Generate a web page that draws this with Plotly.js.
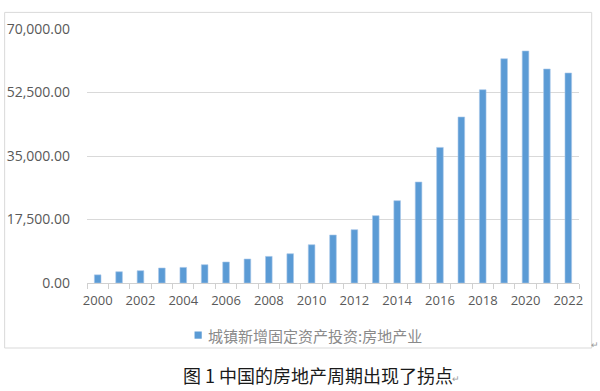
<!DOCTYPE html>
<html><head><meta charset="utf-8">
<script src="https://cdn.plot.ly/plotly-3.0.1.min.js"></script>
<style>html,body{margin:0;padding:0;background:#fff;}#chart{width:600px;height:391px;}</style>
</head><body><div id="chart"></div>
<script>
const years = [2000,2001,2002,2003,2004,2005,2006,2007,2008,2009,2010,2011,2012,2013,2014,2015,2016,2017,2018,2019,2020,2021,2022];
const values = [2250,3110,3390,4130,4300,5040,5790,6610,7330,8070,10550,13230,14690,18550,22680,27830,37370,45750,53270,61810,63940,58980,57870];
const seriesName = '城镇新增固定资产投资:房地产业';
const yTicks = [0,17500,35000,52500,70000];
const xTickYears = [2000,2002,2004,2006,2008,2010,2012,2014,2016,2018,2020,2022];
const caption = '图 1 中国的房地产周期出现了拐点';
const barColor = '#5B9BD5';

const L=86.7, R=579, T=29.3, B=283.3, W=600, H=391;
const pw=R-L, ph=B-T;
const px=x=>(x-L)/pw, py=y=>(B-y)/ph;

const trace = {
  type:'bar', x:years, y:values, name:seriesName,
  marker:{color:barColor, line:{color:'#A9C8EA', width:0.6}},
  showlegend:false
};
const layout = {
  width:W, height:H,
  margin:{l:L, r:W-R, t:T, b:H-B, pad:0},
  paper_bgcolor:'#fff', plot_bgcolor:'#fff',
  font:{family:'"Open Sans", "Noto Sans CJK SC", sans-serif', size:13, color:'#595959'},
  bargap:0.69,
  showlegend:false,
  xaxis:{
    range:[1999.5,2022.5], tickmode:'array', tickvals:xTickYears, ticktext:xTickYears.map(String),
    ticks:'', showgrid:false, zeroline:false, showline:true, linecolor:'#d0d0d0', linewidth:1,
    ticklabelstandoff:5,
    tickfont:{size:13,color:'#595959'},
    minor:{tick0:1999.5, dtick:1, ticks:'outside', ticklen:5, tickcolor:'#d0d0d0', tickwidth:1, showgrid:false}
  },
  yaxis:{
    range:[0,70000], tickmode:'array', tickvals:yTicks, tickformat:',.2f',
    showgrid:true, gridcolor:'#d9d9d9', gridwidth:1, zeroline:false, showline:false, ticks:'',
    ticklabelstandoff:16, tickfont:{size:14,color:'#595959'}
  },
  shapes:[
    {type:'rect', xref:'paper', yref:'paper', x0:px(4.3), x1:px(591.7), y0:py(348.3), y1:py(12.7),
     line:{color:'#d9d9d9', width:1}, fillcolor:'rgba(0,0,0,0)', layer:'below'},
    {type:'rect', xref:'paper', yref:'paper', x0:px(194.3), x1:px(201.5), y0:py(339), y1:py(331.8),
     line:{width:0}, fillcolor:barColor}
  ],
  annotations:[
    {xref:'paper', yref:'paper', x:px(205.5), y:py(336), xanchor:'left', yanchor:'middle', showarrow:false,
     text:seriesName, font:{size:15, color:'#8a8a8a', family:'"Noto Sans CJK SC", sans-serif'}},
    {xref:'paper', yref:'paper', x:px(317.5), y:py(375.5), xanchor:'center', yanchor:'middle', showarrow:false,
     text:caption, font:{size:18, color:'#1a1a1a', family:'"Noto Sans CJK SC", sans-serif'}},
    {xref:'paper', yref:'paper', x:px(456), y:py(379), xanchor:'center', yanchor:'middle', showarrow:false,
     text:'↵', font:{size:9, color:'#999'}},
    {xref:'paper', yref:'paper', x:px(595), y:py(345), xanchor:'center', yanchor:'middle', showarrow:false,
     text:'↵', font:{size:9, color:'#999'}}
  ]
};
Plotly.newPlot('chart',[trace],layout,{staticPlot:true, displayModeBar:false});
</script></body></html>
